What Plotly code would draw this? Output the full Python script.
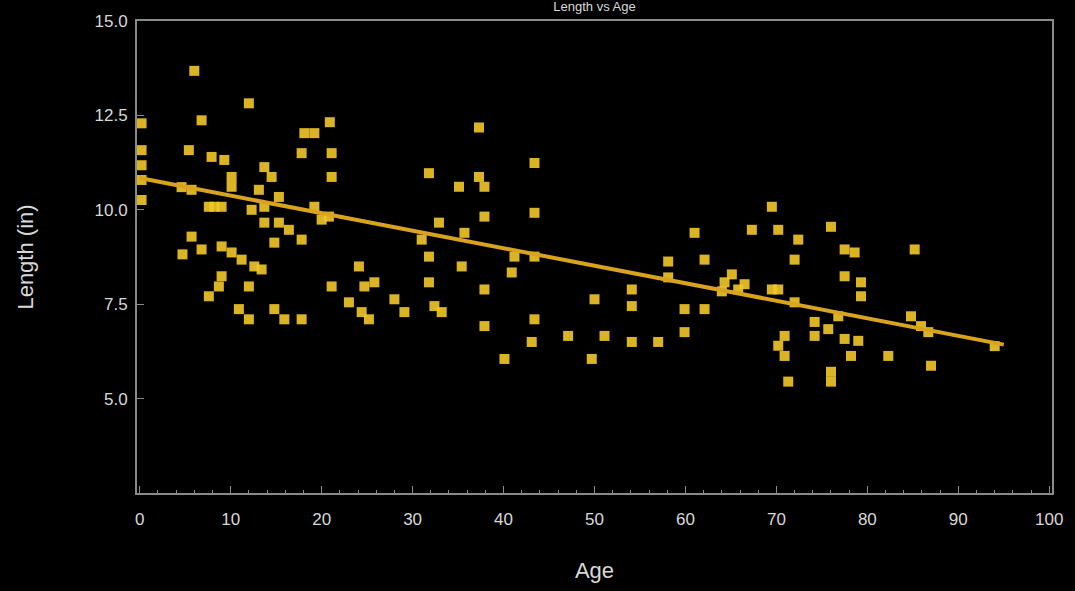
import plotly.graph_objects as go

age = [0.2, 0.2, 0.2, 0.2, 0.2,
       6.0, 6.8, 12.0, 5.4, 4.7, 4.6, 5.7, 7.6, 8.2, 9.0, 7.9, 9.3, 10.1, 10.1,
       13.7, 14.5, 13.1, 13.7, 15.3, 13.7, 15.3, 16.4, 17.8, 14.8, 12.3,
       5.7, 6.8, 9.0, 10.1, 11.2, 12.6, 13.4, 9.0, 8.7, 7.6, 12.0,
       10.9, 12.0, 14.8, 15.9, 17.8, 18.1, 17.8, 20.9, 19.2, 21.1, 21.1,
       19.2, 20.8, 20.0, 24.1, 21.1, 25.8, 24.7, 23.0, 24.4, 25.2, 28.0, 29.1,
       32.4, 33.2, 31.8, 31.8, 31.0, 32.9, 31.8, 35.1, 37.3, 37.3, 37.9, 37.9,
       35.7, 35.4, 37.9, 37.9, 43.4, 43.4, 41.2, 43.4, 40.9, 43.4, 43.1, 40.1,
       47.1, 49.7, 50.0, 51.1, 54.1, 54.1, 54.1, 57.0, 58.1, 58.1,
       61.0, 62.1, 59.9, 62.1, 59.9, 67.3, 69.5, 70.2, 72.4, 72.0, 76.0, 77.5, 77.5,
       64.3, 65.1, 65.8, 64.0, 66.5, 69.5, 70.2, 72.0, 70.9, 70.2, 70.9,
       74.2, 75.7, 76.8, 74.2, 76.0, 76.0, 71.3, 77.5, 78.6, 79.3, 79.3,
       85.2, 84.8, 85.9, 86.7, 79.0, 82.3, 87.0, 94.0, 78.2]
length = [12.29, 11.58, 11.18, 10.79, 10.26,
          13.68, 12.37, 12.82, 11.58, 8.82, 10.60, 10.53, 10.08, 10.08, 10.08, 11.40, 11.32, 10.87, 10.61,
          11.13, 10.87, 10.53, 10.08, 10.34, 9.66, 9.66, 9.47, 9.21, 9.13, 10.00,
          9.29, 8.95, 9.03, 8.87, 8.68, 8.50, 8.42, 8.24, 7.97, 7.71, 7.97,
          7.37, 7.10, 7.37, 7.10, 7.10, 12.03, 11.50, 12.32, 12.03, 11.50, 10.87,
          10.08, 9.82, 9.74, 8.50, 7.97, 8.08, 7.97, 7.55, 7.29, 7.10, 7.63, 7.29,
          7.45, 7.29, 8.08, 8.76, 9.21, 9.66, 10.97, 10.61, 12.18, 10.87, 10.61, 9.82,
          9.39, 8.50, 7.89, 6.92, 11.24, 9.92, 8.76, 8.76, 8.34, 7.10, 6.50, 6.05,
          6.66, 6.05, 7.63, 6.66, 7.89, 7.45, 6.50, 6.50, 8.63, 8.21,
          9.39, 8.68, 7.37, 7.37, 6.76, 9.47, 10.08, 9.47, 9.21, 8.68, 9.55, 8.95, 8.24,
          8.08, 8.29, 7.89, 7.84, 8.03, 7.89, 7.89, 7.55, 6.66, 6.40, 6.13,
          7.03, 6.84, 7.18, 6.66, 5.71, 5.45, 5.45, 6.58, 8.87, 8.08, 7.71,
          8.95, 7.18, 6.92, 6.76, 6.53, 6.13, 5.87, 6.39, 6.13]

trend_age = [0.0, 95.0]
trend_length = [10.84, 6.43]

x_ticks = [0, 10, 20, 30, 40, 50, 60, 70, 80, 90, 100]
y_ticks = [5.0, 7.5, 10.0, 12.5, 15.0]

FONT = "Liberation Sans, Arial, sans-serif"
TXT = "#d8d8d8"

fig = go.Figure()
fig.add_trace(go.Scatter(
    x=age, y=length, mode="markers",
    marker=dict(color="rgba(242,200,40,0.9)", size=10, symbol="square",
                line=dict(width=0)),
    showlegend=False))
fig.add_trace(go.Scatter(
    x=trend_age, y=trend_length, mode="lines",
    line=dict(color="#d9a31f", width=4), showlegend=False))

axis_common = dict(
    showline=True, mirror=True, linecolor="#8a8a8a", linewidth=2,
    showgrid=False, zeroline=False, ticks="inside", tickcolor="#8a8a8a",
    ticklen=7, tickfont=dict(color=TXT, size=17, family=FONT),
)

fig.update_layout(
    width=1075, height=591,
    paper_bgcolor="black", plot_bgcolor="black",
    margin=dict(l=137, r=21, t=20, b=97),
    title=dict(text="Length vs Age", x=0.553, xanchor="center", y=0.996,
               yanchor="top", font=dict(color=TXT, size=13, family=FONT)),
    xaxis=dict(range=[-0.3, 100.3], tickvals=x_ticks, ticklabelstandoff=10,
               title=dict(text="Age", font=dict(color=TXT, size=22, family=FONT),
                          standoff=34),
               minor=dict(ticks="inside", dtick=2, ticklen=3, tickcolor="#8a8a8a"),
               **axis_common),
    yaxis=dict(range=[2.5, 15.0], tickvals=y_ticks, tickformat=".1f",
               ticklabelstandoff=4,
               title=dict(text="Length (in)", font=dict(color=TXT, size=22, family=FONT),
                          standoff=55),
               **axis_common),
)

fig.write_html("out.html")
